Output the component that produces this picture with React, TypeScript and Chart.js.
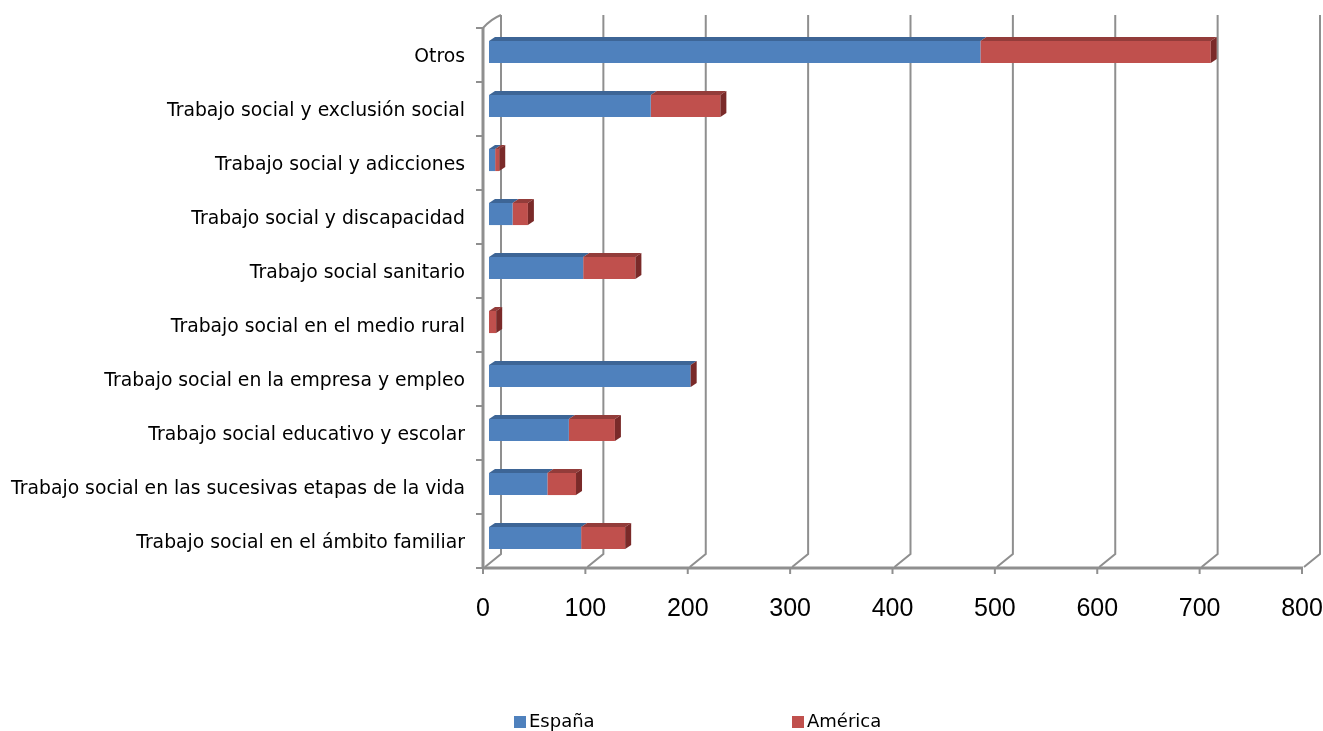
import React, { useEffect, useRef } from "react";
import { Chart, registerables } from "chart.js";

Chart.register(...registerables);

const categories = [
  "Otros",
  "Trabajo social y exclusión social",
  "Trabajo social y adicciones",
  "Trabajo social y discapacidad",
  "Trabajo social sanitario",
  "Trabajo social en el medio rural",
  "Trabajo social en la empresa y empleo",
  "Trabajo social educativo y escolar",
  "Trabajo social en las sucesivas etapas de la vida",
  "Trabajo social en el ámbito familiar",
];
const espana = [480, 158, 6, 23, 92, 0, 197, 78, 57, 90];
const america = [225, 68, 4, 15, 51, 7, 0, 45, 28, 43];
const seriesNames = ["España", "América"];
const xMin = 0;
const xMax = 800;
const xStep = 100;

const BLUE = "#4f81bd";
const RED = "#c0504d";
const BLUE_TOP = "#3d6596";
const RED_TOP = "#933c3a";
const RED_SIDE = "#7a2a29";
const GRID = "#8f8f8f";
const DX = 6;
const DY = 4;

const wallPlugin = {
  id: "wall3d",
  beforeDatasetsDraw(chart: any) {
    const { ctx, chartArea: a } = chart;
    const xs = chart.scales.x;
    const fy = a.bottom + 3;
    const by = fy - 14;
    const topY = 15;
    ctx.save();
    ctx.strokeStyle = GRID;
    ctx.lineCap = "butt";
    xs.ticks.forEach((t: any) => {
      const px = xs.getPixelForValue(t.value);
      ctx.lineWidth = 2;
      ctx.beginPath();
      ctx.moveTo(px + 12, topY);
      ctx.lineTo(px + 12, by);
      ctx.lineTo(px - 4, fy - 1);
      ctx.stroke();
      ctx.beginPath();
      ctx.moveTo(px - 6, fy);
      ctx.lineTo(px - 6, fy + 6);
      ctx.stroke();
    });
    // front axis line
    ctx.lineWidth = 3;
    ctx.beginPath();
    ctx.moveTo(a.left - 7, fy);
    ctx.lineTo(a.right - 5, fy);
    ctx.stroke();
    // left wall
    ctx.beginPath();
    ctx.moveTo(a.left - 6, fy);
    ctx.lineTo(a.left - 6, a.top + 3);
    ctx.stroke();
    ctx.lineWidth = 2;
    ctx.beginPath();
    ctx.moveTo(a.left - 6, a.top + 3);
    ctx.quadraticCurveTo(a.left + 2, a.top - 6, a.left + 12, topY);
    ctx.stroke();
    // left ticks
    const n = categories.length;
    ctx.lineWidth = 2;
    for (let i = 0; i <= n; i++) {
      const y = a.top + (i * a.height) / n + 3;
      ctx.beginPath();
      ctx.moveTo(a.left - 13, y);
      ctx.lineTo(a.left - 6, y);
      ctx.stroke();
    }
    ctx.restore();
  },
  afterDatasetsDraw(chart: any) {
    const { ctx } = chart;
    const metas = [chart.getDatasetMeta(0), chart.getDatasetMeta(1)];
    const tops = [BLUE_TOP, RED_TOP];
    ctx.save();
    for (let i = 0; i < categories.length; i++) {
      let rightMost = -Infinity;
      let topEdge = 0;
      let h = 0;
      metas.forEach((meta: any, d: number) => {
        const el = meta.data[i];
        if (!el) return;
        const p = el.getProps(["x", "y", "base", "height"], true);
        const left = Math.min(p.base, p.x);
        const right = Math.max(p.base, p.x);
        const top = p.y - p.height / 2;
        topEdge = top;
        h = p.height;
        rightMost = Math.max(rightMost, right);
        if (right - left > 0.5) {
          ctx.fillStyle = tops[d];
          ctx.beginPath();
          ctx.moveTo(left, top);
          ctx.lineTo(right, top);
          ctx.lineTo(right + DX, top - DY);
          ctx.lineTo(left + DX, top - DY);
          ctx.closePath();
          ctx.fill();
        }
      });
      if (rightMost > -Infinity) {
        ctx.fillStyle = RED_SIDE;
        ctx.beginPath();
        ctx.moveTo(rightMost, topEdge);
        ctx.lineTo(rightMost + DX, topEdge - DY);
        ctx.lineTo(rightMost + DX, topEdge + h - DY);
        ctx.lineTo(rightMost, topEdge + h);
        ctx.closePath();
        ctx.fill();
      }
    }
    ctx.restore();
  },
};

export default function App() {
  const ref = useRef<HTMLCanvasElement | null>(null);
  useEffect(() => {
    if (!ref.current) return;
    const chart = new Chart(ref.current, {
      type: "bar",
      data: {
        labels: categories,
        datasets: [
          { label: seriesNames[0], data: espana, backgroundColor: BLUE, borderWidth: 0 },
          { label: seriesNames[1], data: america, backgroundColor: RED, borderWidth: 0 },
        ],
      },
      options: {
        indexAxis: "y",
        responsive: false,
        animation: false,
        layout: { padding: { top: 25, right: 15, left: 0, bottom: 0 } },
        datasets: { bar: { categoryPercentage: 1, barPercentage: 0.41 } },
        plugins: { legend: { display: false }, tooltip: { enabled: false } },
        scales: {
          x: {
            stacked: true,
            min: xMin,
            max: xMax,
            grid: { display: false, drawTicks: false },
            border: { display: false },
            ticks: {
              stepSize: xStep,
              color: "#000",
              font: { family: "'Liberation Sans Narrow', 'Liberation Sans', sans-serif", size: 25 },
              labelOffset: -6,
              padding: 29,
              maxRotation: 0,
              autoSkip: false,
            },
            afterFit(s: any) {
              s.height = 166;
              s.paddingLeft = 0;
              s.paddingRight = 0;
            },
          },
          y: {
            stacked: true,
            grid: { display: false, drawTicks: false },
            border: { display: false },
            ticks: {
              color: "#000",
              font: { family: "'DejaVu Sans', Verdana, sans-serif", size: 18.8 },
              labelOffset: 5,
              padding: 24,
              autoSkip: false,
            },
            afterFit(s: any) {
              s.width = 489;
              s.paddingTop = 0;
              s.paddingBottom = 0;
            },
          },
        },
      } as any,
      plugins: [wallPlugin],
    });
    return () => chart.destroy();
  }, []);

  const legendFont = "'DejaVu Sans', Verdana, sans-serif";
  return (
    <div style={{ position: "fixed", left: 0, top: 0, width: 1323, height: 731, background: "#fff" }}>
      <canvas ref={ref} width={1323} height={731} style={{ display: "block" }} />
      <div style={{ position: "absolute", left: 514, top: 716, width: 12, height: 12, background: BLUE }} />
      <div style={{ position: "absolute", left: 529, top: 709, font: `18px ${legendFont}`, lineHeight: "24px", color: "#000" }}>
        {seriesNames[0]}
      </div>
      <div style={{ position: "absolute", left: 792, top: 716, width: 12, height: 12, background: RED }} />
      <div style={{ position: "absolute", left: 807, top: 709, font: `18px ${legendFont}`, lineHeight: "24px", color: "#000" }}>
        {seriesNames[1]}
      </div>
    </div>
  );
}
